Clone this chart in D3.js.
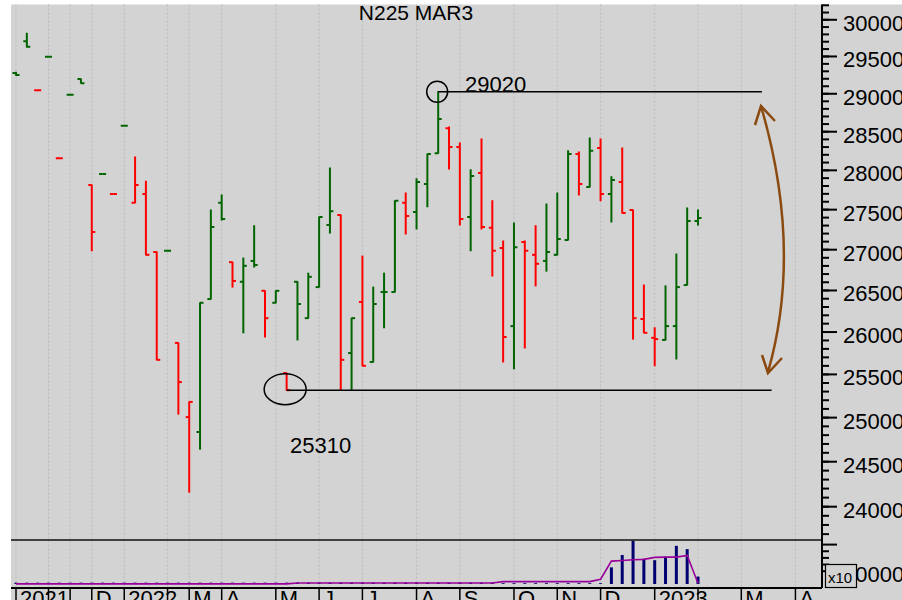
<!DOCTYPE html>
<html>
<meta charset="utf-8">
<title>N225 MAR3</title>
<head>
<script src="https://cdnjs.cloudflare.com/ajax/libs/d3/7.8.5/d3.min.js"></script>
<style>
  body { margin: 0; background: #fff; }
  svg text { font-family: "Liberation Sans", Arial, sans-serif; }
</style>
</head>
<body>
<script>
// weekly OHLC, one entry per bar (bar index = position on the x axis)
var opens  = [29270, 29700, 29040, 29490, 28150, 28980, 29190, 27805, 27945, 27690,
              28570, 27580, 27690, 26965, 26980, 25865, 25000, 24830, 26390, 27580,
              26840, 26600, 26855, 26490, 26345, 25510, 26600, 26160, 26535, 27300,
              27425, 25745, 26355, 25640, 26475, 26475, 27580, 27465, 27820, 28215,
              28540, 28295, 27400, 27960, 27265, 27015, 26065, 27090, 26930, 26855,
              26930, 27115, 28205, 27780, 28280, 27690, 27845, 27490, 26150, 25925,
              25900, 26065, 26560, 27350];
var highs  = [29280, 29810, 29040, 29490, 28150, 28980, 29190, 27805, 27945, 27690,
              28570, 28165, 27855, 26965, 26980, 25865, 25175, 26345, 27490, 27680,
              26840, 26890, 27290, 26490, 26490, 25510, 26600, 26705, 27400, 28025,
              27425, 26160, 26915, 26535, 26705, 27605, 27705, 27885, 28205, 29020,
              28555, 28345, 28000, 28400, 27605, 27100, 27325, 27100, 27290, 27565,
              27705, 28245, 28230, 28410, 28400, 27910, 28280, 27490, 26560, 26045,
              26550, 26940, 27515, 27490];
var lows   = [29240, 29620, 29040, 29490, 28150, 28980, 29135, 26980, 27945, 27690,
              28570, 27580, 26930, 25665, 26980, 25035, 24155, 24635, 26390, 27365,
              26535, 25985, 26780, 25935, 26345, 25310, 25900, 26160, 26535, 27200,
              25310, 25310, 25595, 25640, 26045, 26475, 27190, 27250, 27530, 28215,
              28010, 27300, 26980, 27250, 26670, 25640, 25560, 25805, 26550, 26730,
              26930, 27115, 27680, 27780, 27605, 27340, 27450, 25910, 25985, 25595,
              25900, 25675, 26560, 27300];
var closes = [29245, 29625, 29040, 29490, 28150, 28980, 29135, 27215, 27945, 27690,
              28570, 27805, 26930, 25665, 26980, 25405, 25175, 26345, 27275, 27375,
              26610, 26795, 26805, 26160, 26490, 25310, 26330, 26660, 27400, 27475,
              25665, 26160, 25595, 26330, 26475, 27605, 27415, 27845, 28205, 28660,
              28295, 27375, 27920, 27275, 26980, 25935, 27025, 26980, 26820, 26965,
              27125, 28205, 27820, 28245, 27690, 27870, 27450, 26160, 25985, 25910,
              26065, 26535, 27350, 27390];
var volumes = [1000, 1000, 1000, 1000, 1000, 1000, 1000, 1000, 1000, 1000,
               1000, 1000, 1000, 1000, 1000, 1000, 1000, 1000, 1000, 1000,
               1000, 1000, 1000, 1000, 1000, 1000, 1000, 1000, 1000, 1000,
               1000, 1000, 1000, 1000, 1000, 1000, 1000, 1000, 1000, 1000,
               1000, 1000, 1000, 1000, 1000, 600, 600, 600, 600, 600,
               600, 600, 600, 600, 600, 12500, 21800, 32500, 19000, 17900,
               20500, 28700, 26200, 5600];
var openInterest = [100, 100, 100, 100, 100, 100, 100, 100, 100, 100,
                    100, 100, 100, 100, 100, 100, 100, 100, 100, 100,
                    100, 100, 100, 100, 100, 100, 800, 800, 800, 800,
                    800, 800, 800, 800, 800, 800, 800, 800, 800, 800,
                    800, 800, 800, 800, 800, 1800, 1800, 1800, 1800, 1800,
                    1800, 1800, 1800, 1800, 3600, 17200, 17700, 18200, 18500, 20000,
                    20200, 20200, 21500, 500];

// first bar of each month
var monthIdx    = [0, 3, 5, 7, 10, 14, 16, 19, 24, 28, 32, 37, 41, 46, 50, 54, 59, 63, 67, 72];
var monthLabels = ["2021", "", "", "D", "2022", "", "M", "A", "M", "J", "J", "A", "S", "O", "N", "D", "2023", "", "M", "A"];

var priceMajor = [24000, 24500, 25000, 25500, 26000, 26500, 27000, 27500, 28000, 28500, 29000, 29500, 30000];
var priceMinor = d3.range(23700, 30201, 100);
var volMajor = [10000, 30000];
var volMinor = [15000, 20000, 25000];

var W = 902, H = 600;
var plotLeft = 11, plotTop = 4.5, axisX = 822, mainBottom = 540, volBottom = 588;

var x = d3.scaleLinear().domain([0, 63]).range([16, 698]);
var y = d3.scaleLog().domain([23631, 30204]).range([mainBottom, plotTop]);
var yv = d3.scaleLinear().domain([0, 33077]).range([584, mainBottom]);

var svg = d3.select("body").append("svg")
    .attr("width", W)
    .attr("height", H);

svg.append("rect")
    .attr("x", plotLeft).attr("y", plotTop)
    .attr("width", W - plotLeft).attr("height", H - plotTop)
    .attr("fill", "#d3d3d3");

svg.append("defs").append("clipPath").attr("id", "mainclip")
  .append("rect")
    .attr("x", plotLeft).attr("y", plotTop)
    .attr("width", axisX - plotLeft).attr("height", mainBottom - plotTop);

// month grid
svg.selectAll(".grid")
    .data(monthIdx)
    .enter().append("line")
    .attr("x1", function(d) { return x(d); })
    .attr("x2", function(d) { return x(d); })
    .attr("y1", plotTop).attr("y2", volBottom)
    .attr("stroke", "#bcbcbc")
    .attr("stroke-dasharray", "2,2");

var bars = d3.range(opens.length).map(function(i) {
  return {
    i: i, o: opens[i], h: highs[i], l: lows[i], c: closes[i],
    up: i === 0 || closes[i] >= closes[i - 1]
  };
});

var ohlc = svg.append("g").attr("clip-path", "url(#mainclip)");
var bar = ohlc.selectAll(".bar")
    .data(bars)
    .enter().append("g")
    .attr("stroke", function(d) { return d.up ? "#006400" : "#ff0000"; })
    .attr("stroke-width", 2);
bar.append("line")
    .attr("x1", function(d) { return x(d.i); })
    .attr("x2", function(d) { return x(d.i); })
    .attr("y1", function(d) { return y(d.h) - 0.5; })
    .attr("y2", function(d) { return y(d.l) + 0.5; });
bar.append("line")
    .attr("x1", function(d) { return x(d.i) - 3.5; })
    .attr("x2", function(d) { return x(d.i); })
    .attr("y1", function(d) { return y(d.o); })
    .attr("y2", function(d) { return y(d.o); });
bar.append("line")
    .attr("x1", function(d) { return x(d.i); })
    .attr("x2", function(d) { return x(d.i) + 3.5; })
    .attr("y1", function(d) { return y(d.c); })
    .attr("y2", function(d) { return y(d.c); });

// volume panel
svg.selectAll(".vol")
    .data(volumes)
    .enter().append("rect")
    .attr("x", function(d, i) { return x(i) - 1.5; })
    .attr("width", 3)
    .attr("y", function(d) { return yv(d); })
    .attr("height", function(d) { return yv(0) - yv(d); })
    .attr("fill", "#000070");

svg.append("path")
    .datum(openInterest)
    .attr("d", d3.line()
      .x(function(d, i) { return x(i); })
      .y(function(d) { return yv(d); }))
    .attr("fill", "none")
    .attr("stroke", "#990099")
    .attr("stroke-width", 1.6);

// frame lines
svg.append("line")
    .attr("x1", plotLeft).attr("x2", axisX)
    .attr("y1", mainBottom).attr("y2", mainBottom)
    .attr("stroke", "#111").attr("stroke-width", 1.6);
svg.append("line")
    .attr("x1", plotLeft).attr("x2", axisX)
    .attr("y1", volBottom).attr("y2", volBottom)
    .attr("stroke", "#000").attr("stroke-width", 2);
svg.append("line")
    .attr("x1", axisX).attr("x2", axisX)
    .attr("y1", plotTop).attr("y2", volBottom)
    .attr("stroke", "#000").attr("stroke-width", 2);

// price axis
svg.append("g")
    .attr("transform", "translate(" + axisX + ",0)")
    .call(d3.axisRight(y).tickValues(priceMinor).tickSize(7).tickFormat(""))
    .call(function(g) { g.select(".domain").remove(); })
    .selectAll("line").attr("stroke-width", 2);
var pa = svg.append("g")
    .attr("transform", "translate(" + axisX + ",0)")
    .call(d3.axisRight(y).tickValues(priceMajor).tickSize(15).tickPadding(6).tickFormat(d3.format("d")))
    .call(function(g) { g.select(".domain").remove(); });
pa.selectAll("line").attr("stroke-width", 2);
pa.selectAll("text")
    .attr("font-size", 22)
    .attr("font-family", "Liberation Sans, Arial, sans-serif")
    .attr("dy", "0.5em")
    .attr("fill", "#000");

// volume axis
svg.append("g")
    .attr("transform", "translate(" + axisX + ",0)")
    .call(d3.axisRight(yv).tickValues(volMinor).tickSize(7).tickFormat(""))
    .call(function(g) { g.select(".domain").remove(); })
    .selectAll("line").attr("stroke-width", 2);
var va = svg.append("g")
    .attr("transform", "translate(" + axisX + ",0)")
    .call(d3.axisRight(yv).tickValues(volMajor).tickSize(15).tickPadding(6)
      .tickFormat(function(d) { return d === 10000 ? "10000" : ""; }))
    .call(function(g) { g.select(".domain").remove(); });
va.selectAll("line").attr("stroke-width", 2);
va.selectAll("text")
    .attr("font-size", 22)
    .attr("font-family", "Liberation Sans, Arial, sans-serif")
    .attr("dy", "0.5em")
    .attr("fill", "#000");

svg.append("rect")
    .attr("x", 825.5).attr("y", 564.5)
    .attr("width", 31).attr("height", 23)
    .attr("fill", "#d3d3d3")
    .attr("stroke", "#000").attr("stroke-width", 1.2);
svg.append("text")
    .attr("x", 828).attr("y", 583)
    .attr("font-size", 15)
    .text("x10");

// date axis
svg.selectAll(".mtick")
    .data(monthIdx)
    .enter().append("line")
    .attr("x1", function(d) { return x(d); })
    .attr("x2", function(d) { return x(d); })
    .attr("y1", volBottom).attr("y2", H)
    .attr("stroke", "#000").attr("stroke-width", 1.5);
svg.selectAll(".mlabel")
    .data(monthIdx)
    .enter().append("text")
    .attr("x", function(d) { return x(d) + 4; })
    .attr("y", 606)
    .attr("font-size", 22)
    .text(function(d, i) { return monthLabels[i]; });

// title
svg.append("text")
    .attr("x", 416).attr("y", 19.5)
    .attr("text-anchor", "middle")
    .attr("font-size", 21)
    .text("N225 MAR3");

// annotations: range high / low
var hiIdx = 39, loIdx = 25;
svg.append("line")
    .attr("x1", x(hiIdx)).attr("x2", x(68.9))
    .attr("y1", y(29020)).attr("y2", y(29020))
    .attr("stroke", "#000").attr("stroke-width", 1.6);
svg.append("circle")
    .attr("cx", x(hiIdx) - 1).attr("cy", y(29020))
    .attr("r", 10.5)
    .attr("fill", "none").attr("stroke", "#000").attr("stroke-width", 1.5);
svg.append("text")
    .attr("x", 465).attr("y", y(29020))
    .attr("font-size", 22)
    .text("29020");

svg.append("line")
    .attr("x1", x(loIdx)).attr("x2", x(69.8))
    .attr("y1", y(25310)).attr("y2", y(25310))
    .attr("stroke", "#000").attr("stroke-width", 1.6);
svg.append("ellipse")
    .attr("cx", x(loIdx) - 1.5).attr("cy", y(25310) - 1)
    .attr("rx", 21).attr("ry", 15.5)
    .attr("fill", "none").attr("stroke", "#000").attr("stroke-width", 1.5);
svg.append("text")
    .attr("x", 290).attr("y", 453)
    .attr("font-size", 22)
    .text("25310");

// brown double arrow
var brown = "#8b4a10";
svg.append("path")
    .attr("d", "M761,106 Q803,250 768,372")
    .attr("fill", "none").attr("stroke", brown).attr("stroke-width", 2.5);
svg.append("path")
    .attr("d", "M755,125 L761,106 L775,121")
    .attr("fill", "none").attr("stroke", brown).attr("stroke-width", 2.5);
svg.append("path")
    .attr("d", "M762,355 L768,373 L782,358")
    .attr("fill", "none").attr("stroke", brown).attr("stroke-width", 2.5);
</script>
</body>
</html>
